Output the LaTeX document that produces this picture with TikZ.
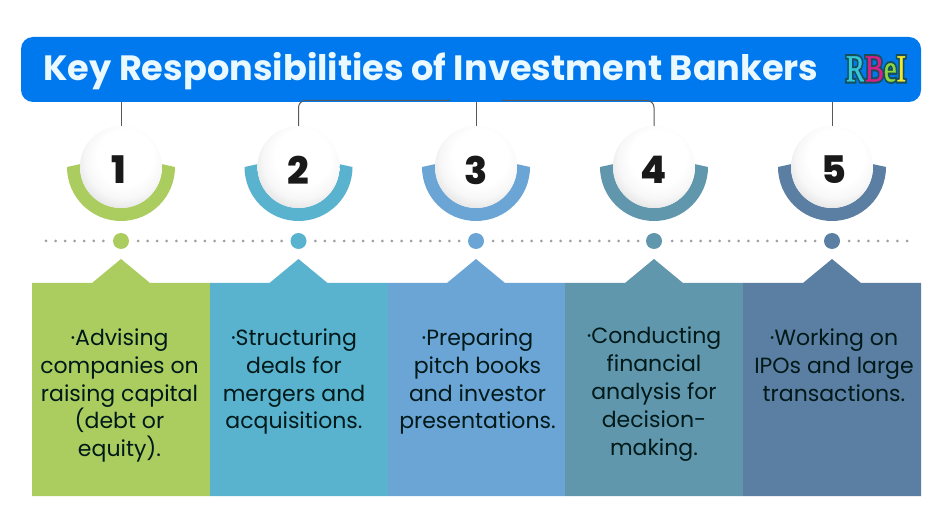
\documentclass[tikz,border=0pt]{standalone}
\usepackage{fontspec}
\setmainfont{Poppins}
\newfontfamily\numfont{Poppins ExtraBold}
\newfontfamily\logofont[FakeBold=1]{Liberation Serif}
\newfontfamily\logoback[FakeBold=12]{Liberation Serif}
\newcommand{\lgl}[2]{\rlap{\logoback\textcolor[HTML]{17505A}{#2}}\textcolor[HTML]{#1}{\logofont #2}}
\definecolor{barblue}{HTML}{0078EE}
\definecolor{titletext}{HTML}{EAF8FF}
\pgfdeclareradialshading{ballsh}{\pgfpoint{4pt}{9pt}}{
  color(0pt)=(white); color(17pt)=(white); color(24pt)=(white!97!black); color(29pt)=(white!91!black); color(35pt)=(white!85!black); color(50pt)=(white!85!black)}
\tikzset{
  titlebar/.style={fill=barblue,rounded corners=12pt,minimum width=900pt,minimum height=65pt,inner sep=0pt},
  titletxt/.style={inner sep=0pt,text=titletext,font=\bfseries\fontsize{35.15}{38}\selectfont},
  ballst/.style={circle,shading=ballsh,minimum size=82pt,inner sep=0pt},
  numtxt/.style={inner sep=0pt,text=black!90,font=\numfont\fontsize{38}{38}\selectfont},
  bodytext/.style={align=center,anchor=north,inner sep=0pt,text={black!80!teal},font=\fontsize{22}{27.8}\selectfont},
  conn/.style={draw=black!65,line width=1pt},
  jointdot/.style={circle,minimum size=16pt,inner sep=0pt},
}
\begin{document}
\begin{tikzpicture}[x=1pt,y=-1pt]
\useasboundingbox (0,0) rectangle (940,529);
\fill[white] (0,0) rectangle (940,529);
% dotted line
\foreach \a/\b/\n in {46/103.3/6,138/281.5/15,315.3/459/15,493/638/15,672/815/15,849/907/6}{
  \foreach \i in {0,...,\n}{
    \fill[black!38] ({\a+(\b-\a)*\i/\n},241) circle (1.5);
  }
}
% coloured parts
\foreach \k/\x/\l/\r/\c in {1/121/32/210/ABCD5F,2/298.5/210/388/5AB3CE,3/476/388/565/6BA5D6,4/654/565/743/6097AD,5/832/743/921/5B7FA3}{
  \definecolor{cc}{HTML}{\c}
  \fill[cc] (\l,283) -- (\x-29,283) -- (\x,259) -- (\x+29,283) -- (\r,283) -- (\r,496) -- (\l,496) -- cycle;
  \fill[cc] ([shift={(\x,167)}]0:54) arc[start angle=0,end angle=180,radius=54]
     -- ([shift={(\x,167)}]184:41) arc[start angle=184,end angle=-4,radius=41] -- cycle;
  \node[jointdot,fill=cc] (dot\k) at (\x,241) {};
}
\node[titlebar] (title) at (471,69.5) {};
\node[ballst] (ball1) at (121,167) {};
\node[ballst] (ball2) at (298.5,167) {};
\node[ballst] (ball3) at (476,167) {};
\node[ballst] (ball4) at (654,167) {};
\node[ballst] (ball5) at (832,167) {};
\node[numtxt] (n1) at (119,170) {1};
\node[numtxt] (n2) at (298,170) {2};
\node[numtxt] (n3) at (476,170) {3};
\node[numtxt] (n4) at (653.5,170) {4};
\node[numtxt] (n5) at (833.5,170) {5};
% connectors
\coordinate (joinL) at (450,100.5);
\coordinate (joinR) at (502,100.5);
\draw[conn] (title.south -| ball1) -- (ball1.north);
\draw[conn,rounded corners=7pt] (ball2.north) |- (joinL);
\draw[conn] (title.south -| ball3) -- (ball3.north);
\draw[conn,rounded corners=7pt] (ball4.north) |- (joinR);
\draw[conn] (title.south -| ball5) -- (ball5.north);
% title
\node[titletxt,anchor=base west] (head) at (43,81) {Key Responsibilities of Investment Bankers};
\node[inner sep=0pt,anchor=center,font=\fontsize{38}{38}\selectfont] (logo) at (876,69) {\scalebox{0.75}[1]{\lgl{35C6D8}{R}\lgl{D8208A}{B}\lgl{8CD83C}{e}\lgl{F2E830}{I}}};
% body
\node[bodytext] (t1) at (119.5,328.5) {·Advising\\companies on\\raising capital\\(debt or\\equity).};
\node[bodytext] (t2) at (294,328.5) {·Structuring\\deals for\\mergers and\\acquisitions.};
\node[bodytext] (t3) at (477.5,328.5) {·Preparing\\pitch books\\and investor\\presentations.};
\node[bodytext] (t4) at (654,327) {·Conducting\\financial\\analysis for\\decision-\\making.};
\node[bodytext] (t5) at (834,328.5) {·Working on\\IPOs and large\\transactions.};
\end{tikzpicture}
\end{document}
